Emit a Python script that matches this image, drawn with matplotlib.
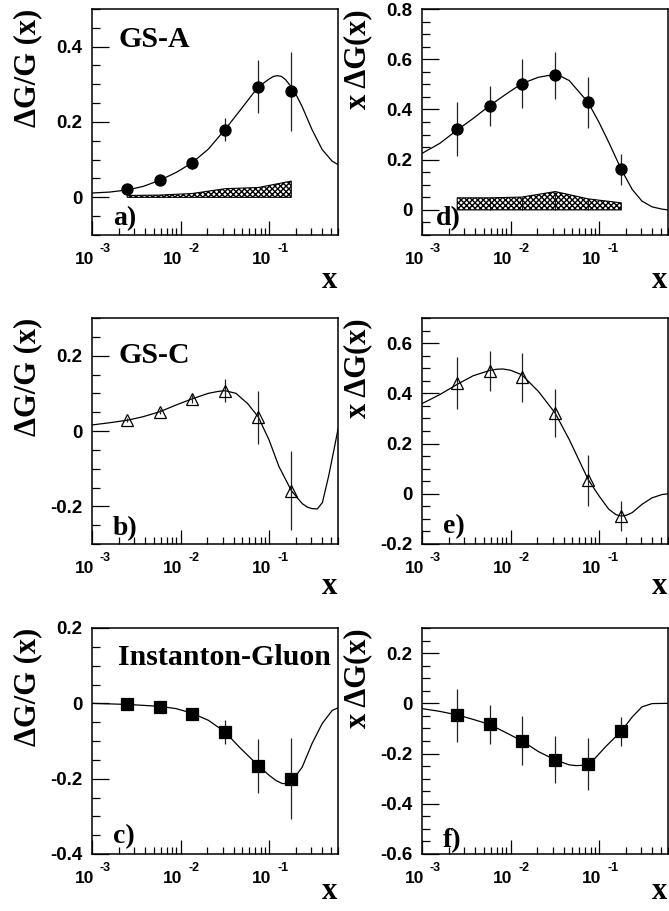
import matplotlib
matplotlib.use("Agg")

import matplotlib.pyplot as plt
from matplotlib.ticker import FixedLocator, MultipleLocator, LogLocator, FuncFormatter, NullFormatter

# --- measured points (same x bins in every panel) ---
X_PTS = [0.0025, 0.0058, 0.0134, 0.032, 0.075, 0.178]

A_Y = [0.023, 0.047, 0.091, 0.180, 0.294, 0.281]
A_ERR = [0.004, 0.005, 0.015, 0.031, 0.071, 0.105]
B_Y = [0.029, 0.051, 0.085, 0.107, 0.036, -0.158]
B_ERR = [0.005, 0.007, 0.010, 0.031, 0.071, 0.105]
C_Y = [-0.002, -0.009, -0.027, -0.076, -0.167, -0.200]
C_ERR = [0.005, 0.007, 0.015, 0.032, 0.071, 0.107]
D_Y = [0.322, 0.415, 0.503, 0.536, 0.428, 0.161]
D_ERR = [0.107, 0.080, 0.098, 0.094, 0.102, 0.060]
E_Y = [0.441, 0.490, 0.464, 0.322, 0.054, -0.089]
E_ERR = [0.105, 0.080, 0.098, 0.094, 0.101, 0.059]
F_Y = [-0.047, -0.084, -0.149, -0.225, -0.242, -0.111]
F_ERR = [0.105, 0.079, 0.097, 0.094, 0.102, 0.058]

# systematic bands (top edge, bottom at zero)
A_SYS = [0.005, 0.006, 0.010, 0.023, 0.026, 0.043]
D_SYS = [0.048, 0.048, 0.051, 0.073, 0.044, 0.028]

# --- model curves ---
A_CX = [0.001, 0.00159, 0.00256, 0.00378, 0.0058, 0.0089, 0.0134, 0.0206, 0.0318, 0.046,
        0.0752, 0.1, 0.112, 0.124, 0.138, 0.154, 0.191, 0.237, 0.305, 0.397, 0.515, 0.6]
A_CY = [0.0115, 0.014, 0.020, 0.029, 0.045, 0.066, 0.091, 0.128, 0.180, 0.228,
        0.293, 0.314, 0.321, 0.323, 0.321, 0.312, 0.284, 0.240, 0.180, 0.127, 0.096, 0.087]
B_CX = [0.001, 0.00159, 0.00256, 0.00378, 0.0058, 0.0089, 0.0134, 0.0206, 0.0265, 0.0318, 0.0422,
        0.0571, 0.0752, 0.1, 0.129, 0.178, 0.237, 0.27, 0.305, 0.35, 0.40, 0.47, 0.54, 0.6]
B_CY = [0.016, 0.022, 0.029, 0.038, 0.051, 0.069, 0.085, 0.100, 0.105, 0.107, 0.100,
        0.073, 0.038, -0.024, -0.094, -0.158, -0.193, -0.202, -0.206, -0.207, -0.190, -0.120, -0.050, 0.005]
C_CX = [0.001, 0.00256, 0.0058, 0.0089, 0.0134, 0.0206, 0.0318, 0.046, 0.0752, 0.1,
        0.12, 0.141, 0.16, 0.178, 0.237, 0.305, 0.397, 0.515, 0.6]
C_CY = [0.0, -0.003, -0.008, -0.014, -0.026, -0.045, -0.076, -0.116, -0.165, -0.191,
        -0.205, -0.213, -0.213, -0.209, -0.169, -0.107, -0.054, -0.019, -0.012]
D_CX = [0.001, 0.00159, 0.00256, 0.00378, 0.0058, 0.0089, 0.0134, 0.0206, 0.0265, 0.0318, 0.038, 0.046,
        0.0752, 0.1, 0.129, 0.178, 0.237, 0.305, 0.397, 0.515, 0.6]
D_CY = [0.225, 0.265, 0.321, 0.364, 0.415, 0.461, 0.503, 0.528, 0.535, 0.536, 0.530, 0.515,
        0.428, 0.348, 0.268, 0.161, 0.081, 0.035, 0.012, 0.003, 0.0]
E_CX = [0.001, 0.00159, 0.00256, 0.00378, 0.0058, 0.0070, 0.0082, 0.0100, 0.0134, 0.0206, 0.0318, 0.046,
        0.0752, 0.1, 0.129, 0.155, 0.178, 0.205, 0.237, 0.305, 0.397, 0.515, 0.6]
E_CY = [0.359, 0.395, 0.438, 0.470, 0.491, 0.496, 0.497, 0.492, 0.474, 0.408, 0.322, 0.216,
        0.057, -0.009, -0.062, -0.083, -0.089, -0.085, -0.075, -0.042, -0.016, -0.003, 0.0]
F_CX = [0.001, 0.00159, 0.00256, 0.00378, 0.0058, 0.0089, 0.0134, 0.0206, 0.0318, 0.046,
        0.055, 0.065, 0.0752, 0.0841, 0.119, 0.178, 0.237, 0.305, 0.397, 0.6]
F_CY = [-0.021, -0.032, -0.047, -0.064, -0.084, -0.117, -0.149, -0.192, -0.225, -0.245,
        -0.248, -0.247, -0.241, -0.230, -0.172, -0.111, -0.054, -0.014, -0.001, 0.0]

X_TICKS = [1e-3, 1e-2, 1e-1]
X_TICK_EXP = ["-3", "-2", "-1"]

LEFT_LABEL = "ΔG/G (x)"
RIGHT_LABEL = "x ΔG(x)"

PANELS = [
    # key, y, err, curve x, curve y, ylim, marker, tag, title, title y, sys band
    ("a", A_Y, A_ERR, A_CX, A_CY, (-0.1, 0.5), "o", "a)", "GS-A", 0.832, A_SYS),
    ("b", B_Y, B_ERR, B_CX, B_CY, (-0.3, 0.3), "^", "b)", "GS-C", 0.803, None),
    ("c", C_Y, C_ERR, C_CX, C_CY, (-0.4, 0.2), "s", "c)", "Instanton-Gluon", 0.836, None),
    ("d", D_Y, D_ERR, D_CX, D_CY, (-0.1, 0.8), "o", "d)", None, 0, D_SYS),
    ("e", E_Y, E_ERR, E_CX, E_CY, (-0.2, 0.7), "^", "e)", None, 0, None),
    ("f", F_Y, F_ERR, F_CX, F_CY, (-0.6, 0.3), "s", "f)", None, 0, None),
]

TAG_POS = {"a": (0.085, 0.044), "b": (0.085, 0.040), "c": (0.084, 0.049),
           "d": (0.057, 0.044), "e": (0.085, 0.049), "f": (0.084, 0.031)}
XLABEL_Y = [-0.235, -0.222, -0.2]

W, H = 669, 911
PT = 72 / 100  # points per pixel at dpi 100
COL_LEFT = [92 / W, 422 / W]
COL_W = 246 / W
ROW_BOTTOM = [1 - 235 / H, 1 - 544 / H, 1 - 854 / H]
ROW_H = 226 / H

serif_bold = dict(family="Liberation Serif", weight="bold")
sans_bold = dict(family="Liberation Sans", weight="bold")


def fmt_y(v, pos):
    if abs(v) < 1e-9:
        return "0"
    return f"{v:g}"


fig = plt.figure(figsize=(W / 100, H / 100), dpi=100)

for i, (key, y, err, cx, cy, ylim, marker, tag, title, title_y, sys_band) in enumerate(PANELS):
    col = i // 3
    row = i % 3
    ax = fig.add_axes([COL_LEFT[col], ROW_BOTTOM[row], COL_W, ROW_H])
    ax.set_xscale("log")
    ax.set_xlim(1e-3, 0.6)
    ax.set_ylim(*ylim)

    if sys_band is not None:
        ax.fill_between(X_PTS, 0, sys_band, facecolor="white", edgecolor="black",
                        hatch="xxxxxx", linewidth=0.8, zorder=1)
        if key == "d":
            ax.vlines(X_PTS[1:-1], 0, sys_band[1:-1], color="black", linewidth=0.6, zorder=1)

    ax.plot(cx, cy, color="black", linewidth=0.9, zorder=2)

    open_marker = marker == "^"
    ax.errorbar(X_PTS, y, yerr=err, fmt=marker, color="black", ecolor="#222222",
                elinewidth=0.9, capsize=0,
                markersize=8.5 if open_marker else 8,
                markerfacecolor="none" if open_marker else "black",
                markeredgewidth=0.9, zorder=3)

    # axes styling, ROOT-like
    for s in ax.spines.values():
        s.set_linewidth(1.1)
    ax.tick_params(which="both", direction="in", top=False, right=False)
    ax.tick_params(axis="x", which="major", length=10, width=0.9)
    ax.tick_params(axis="x", which="minor", length=5, width=0.9)
    ax.tick_params(axis="y", which="major", length=12, width=0.9, pad=7)
    ax.tick_params(axis="y", which="minor", length=6, width=0.9)
    ax.xaxis.set_major_locator(FixedLocator(X_TICKS))
    ax.xaxis.set_major_formatter(NullFormatter())
    ax.xaxis.set_minor_locator(LogLocator(base=10, subs=range(2, 10)))
    ax.xaxis.set_minor_formatter(NullFormatter())
    ax.yaxis.set_major_locator(MultipleLocator(0.2))
    ax.yaxis.set_minor_locator(MultipleLocator(0.05))
    ax.yaxis.set_major_formatter(FuncFormatter(fmt_y))
    for lab in ax.get_yticklabels():
        lab.set_fontsize(13.5)
        lab.set_fontfamily("Liberation Sans")
        lab.set_fontweight("bold")

    # ROOT-style "10" with a raised exponent
    for xt, ex in zip(X_TICKS, X_TICK_EXP):
        ax.annotate("10", xy=(xt, 0), xycoords=("data", "axes fraction"),
                    xytext=(2 * PT, -29 * PT), textcoords="offset points",
                    ha="right", va="baseline", fontsize=12.5, **sans_bold)
        ax.annotate(ex, xy=(xt, 0), xycoords=("data", "axes fraction"),
                    xytext=(8 * PT, -17 * PT), textcoords="offset points",
                    ha="left", va="baseline", fontsize=9, **sans_bold)

    ax.set_ylabel(LEFT_LABEL if col == 0 else RIGHT_LABEL, fontsize=22, loc="top", **serif_bold)
    ax.yaxis.set_label_coords(-0.203, 1.0)
    ax.text(0.998, XLABEL_Y[row], "x", transform=ax.transAxes, ha="right", va="baseline",
            fontsize=22, **serif_bold)

    tx, ty = TAG_POS[key]
    ax.text(tx, ty, tag, transform=ax.transAxes, ha="left", va="baseline",
            fontsize=20, **serif_bold)
    if title:
        ax.text(0.106, title_y, title, transform=ax.transAxes, ha="left", va="baseline",
                fontsize=21.5, **serif_bold)

fig.savefig("out.png", dpi=100)
